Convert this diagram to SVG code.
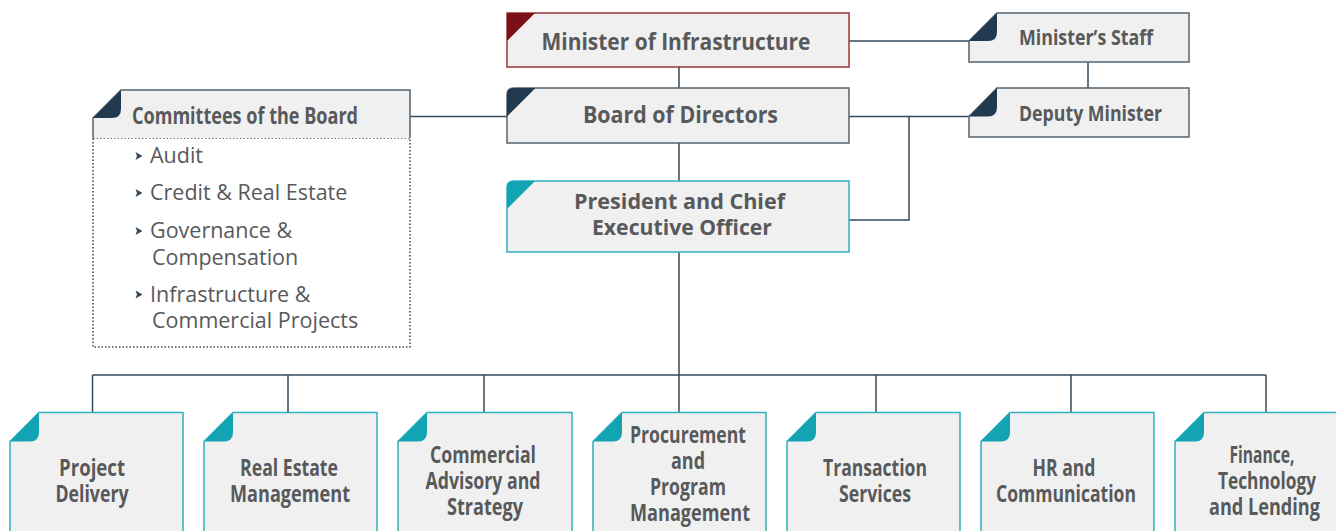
<svg xmlns="http://www.w3.org/2000/svg" width="1336" height="531" viewBox="0 0 1336 531">
<style>
.t{font-family:"Open Sans","Liberation Sans",sans-serif;font-weight:700;fill:#58595b;text-anchor:middle}
.b{font-size:22.5px}
.l{font-family:"Open Sans","Liberation Sans",sans-serif;font-weight:400;fill:#58595b;font-size:21.5px}
.box{fill:#f0f0f0;stroke-width:1.5}
.navy{stroke:#56636e}
.teal{stroke:#2fb0c0}
.red{stroke:#9b3336}
.bf{fill:#f0f0f0}
.bs{fill:none;stroke:#2fb0c0;stroke-width:1.5}
.fn{fill:#213a4f}
.ft{fill:#13a4b4}
.fr{fill:#7b1116}
.cn{fill:none;stroke:#34495a;stroke-width:1.5}
.dot{fill:none;stroke:#34495a;stroke-width:1.5;stroke-dasharray:1.5 2}
.bl{fill:#34495a}
</style>
<g id="connectors">
<path class="cn" d="M679 67V88M679 143V181M679 252V375M92.5 375H1266M92.5 375V412.5M288 375V412.5M484 375V412.5M679 375V412.5M876 375V412.5M1071 375V412.5M1266 375V412.5M849 41H969M1088 62V88M410 116.5H507M849 116.5H969M849 220H909V116.5"/>
</g>
<g id="minister">
<rect class="box red" x="507" y="13" width="342" height="54"/>
<path class="fr" d="M507 41V15Q507 13 509 13H535Z"/>
<text class="t" x="676" y="50" font-size="23" textLength="269" lengthAdjust="spacingAndGlyphs">Minister of Infrastructure</text>
</g>
<g id="board">
<path class="box navy" d="M507 143V95Q507 88 514 88H849V143Z"/>
<path class="fn" d="M507 116.5V95Q507 88 514 88H535.5Z"/>
<text class="t" x="680.5" y="123" font-size="23" textLength="195" lengthAdjust="spacingAndGlyphs">Board of Directors</text>
</g>
<g id="ceo">
<path class="box teal" d="M507 252V188Q507 181 514 181H849V252Z"/>
<path class="ft" d="M507 209V188Q507 181 514 181H535Z"/>
<text class="t" x="679.5" y="209" font-size="22" textLength="211" lengthAdjust="spacingAndGlyphs">President and Chief</text>
<text class="t" x="682" y="235" font-size="22" textLength="180" lengthAdjust="spacingAndGlyphs">Executive Officer</text>
</g>
<g id="staff">
<path class="box navy" d="M997 13H1189V62H969V41Z"/>
<path class="fn" d="M969 41L997 13V32Q997 41 988 41Z"/>
<text class="t" x="1086" y="45" font-size="21.5" textLength="134" lengthAdjust="spacingAndGlyphs">Minister’s Staff</text>
</g>
<g id="deputy">
<path class="box navy" d="M997 88H1189V137H969V116.5Z"/>
<path class="fn" d="M969 116.5L997 88V107.5Q997 116.5 988 116.5Z"/>
<text class="t" x="1090.5" y="121" font-size="21.5" textLength="143" lengthAdjust="spacingAndGlyphs">Deputy Minister</text>
</g>
<g id="committees">
<rect x="93" y="138" width="317" height="209" class="dot"/>
<path d="M93 138V118L121 90H410V138Z" fill="#f0f0f0"/>
<path d="M93 138V118L121 90H410V138" fill="none" stroke="#56636e" stroke-width="1.5"/>
<path class="fn" d="M93 118L121 90V109Q121 118 112 118Z"/>
<text class="t" x="245" y="124" font-size="23" textLength="226" lengthAdjust="spacingAndGlyphs">Committees of the Board</text>
<path class="bl" d="M135.5 152L142.5 156L135.5 160L137 156Z"/>
<text class="l" x="150" y="163">Audit</text>
<path class="bl" d="M135.5 189L142.5 193L135.5 197L137 193Z"/>
<text class="l" x="150" y="200">Credit &amp; Real Estate</text>
<path class="bl" d="M135.5 227L142.5 231L135.5 235L137 231Z"/>
<text class="l" x="150" y="238">Governance &amp;</text>
<text class="l" x="152" y="265">Compensation</text>
<path class="bl" d="M135.5 290.5L142.5 294.5L135.5 298.5L137 294.5Z"/>
<text class="l" x="150" y="302">Infrastructure &amp;</text>
<text class="l" x="152" y="328">Commercial Projects</text>
</g>
<g id="project-delivery">
<path class="bf" d="M39 412.5H183V531H10V441.5Z"/>
<path class="bs" d="M10 531V441.5L39 412.5H183V531"/>
<path class="ft" d="M10 441.5L39 412.5V432.5Q39 441.5 30 441.5Z"/>
<text class="t b" x="92" y="476" textLength="66" lengthAdjust="spacingAndGlyphs">Project</text>
<text class="t b" x="92" y="502" textLength="73" lengthAdjust="spacingAndGlyphs">Delivery</text>
</g>
<g id="real-estate">
<path class="bf" d="M233 412.5H377V531H204V441.5Z"/>
<path class="bs" d="M204 531V441.5L233 412.5H377V531"/>
<path class="ft" d="M204 441.5L233 412.5V432.5Q233 441.5 224 441.5Z"/>
<text class="t b" x="289" y="476" textLength="98" lengthAdjust="spacingAndGlyphs">Real Estate</text>
<text class="t b" x="290" y="502" textLength="120" lengthAdjust="spacingAndGlyphs">Management</text>
</g>
<g id="commercial">
<path class="bf" d="M427 412.5H572V531H398V441.5Z"/>
<path class="bs" d="M398 531V441.5L427 412.5H572V531"/>
<path class="ft" d="M398 441.5L427 412.5V432.5Q427 441.5 418 441.5Z"/>
<text class="t b" x="483" y="463" textLength="106" lengthAdjust="spacingAndGlyphs">Commercial</text>
<text class="t b" x="483" y="489" textLength="115" lengthAdjust="spacingAndGlyphs">Advisory and</text>
<text class="t b" x="485" y="515" textLength="76" lengthAdjust="spacingAndGlyphs">Strategy</text>
</g>
<g id="procurement">
<path class="bf" d="M622 412.5H766V531H593V441.5Z"/>
<path class="bs" d="M593 531V441.5L622 412.5H766V531"/>
<path class="ft" d="M593 441.5L622 412.5V432.5Q622 441.5 613 441.5Z"/>
<text class="t b" x="688" y="443" textLength="116" lengthAdjust="spacingAndGlyphs">Procurement</text>
<text class="t b" x="688" y="469" textLength="34" lengthAdjust="spacingAndGlyphs">and</text>
<text class="t b" x="688" y="495" textLength="76" lengthAdjust="spacingAndGlyphs">Program</text>
<text class="t b" x="690" y="521" textLength="120" lengthAdjust="spacingAndGlyphs">Management</text>
</g>
<g id="transaction">
<path class="bf" d="M816 412.5H960V531H787V441.5Z"/>
<path class="bs" d="M787 531V441.5L816 412.5H960V531"/>
<path class="ft" d="M787 441.5L816 412.5V432.5Q816 441.5 807 441.5Z"/>
<text class="t b" x="875" y="476" textLength="104" lengthAdjust="spacingAndGlyphs">Transaction</text>
<text class="t b" x="875" y="502" textLength="72" lengthAdjust="spacingAndGlyphs">Services</text>
</g>
<g id="hr">
<path class="bf" d="M1010 412.5H1154V531H981V441.5Z"/>
<path class="bs" d="M981 531V441.5L1010 412.5H1154V531"/>
<path class="ft" d="M981 441.5L1010 412.5V432.5Q1010 441.5 1001 441.5Z"/>
<text class="t b" x="1064" y="476" textLength="63" lengthAdjust="spacingAndGlyphs">HR and</text>
<text class="t b" x="1066" y="502" textLength="140" lengthAdjust="spacingAndGlyphs">Communication</text>
</g>
<g id="finance">
<path class="bf" d="M1204 412.5H1336V531H1175V441.5Z"/>
<path class="bs" d="M1175 531V441.5L1204 412.5H1336"/>
<path class="ft" d="M1175 441.5L1204 412.5V432.5Q1204 441.5 1195 441.5Z"/>
<text class="t b" x="1262" y="463" textLength="65" lengthAdjust="spacingAndGlyphs">Finance,</text>
<text class="t b" x="1267" y="489" textLength="98" lengthAdjust="spacingAndGlyphs">Technology</text>
<text class="t b" x="1264.5" y="515" textLength="111" lengthAdjust="spacingAndGlyphs">and Lending</text>
</g>
</svg>
